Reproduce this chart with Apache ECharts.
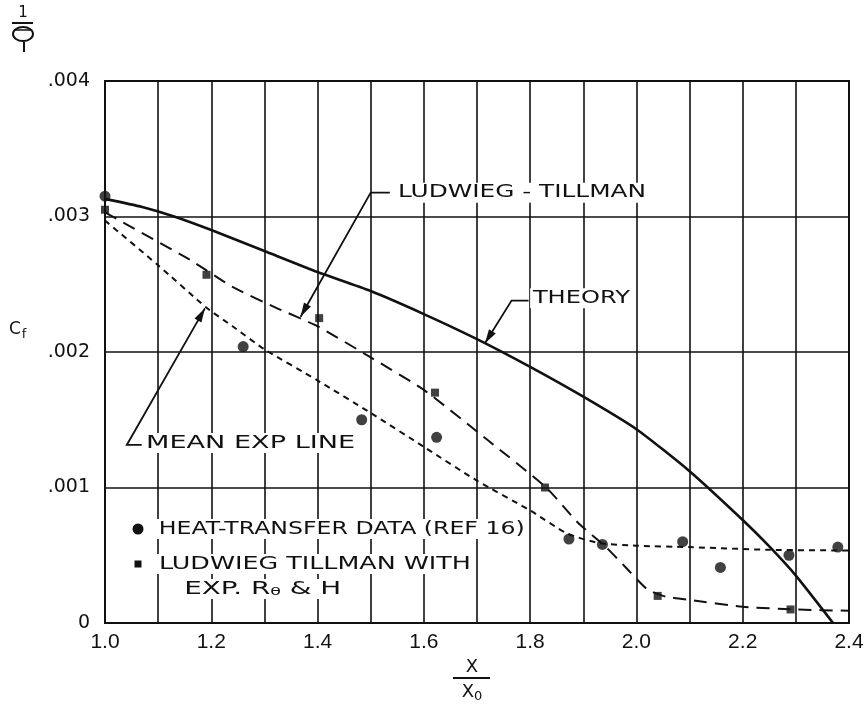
<!DOCTYPE html>
<html><head><meta charset="utf-8">
<script src="https://cdn.jsdelivr.net/npm/echarts@6/dist/echarts.min.js"></script>
<style>html,body{margin:0;padding:0;background:#fff}#c{width:867px;height:706px}</style>
</head><body><div id="c"></div>
<script>
// ---- tick labels ----
const xTickLabels = ['1.0','1.2','1.4','1.6','1.8','2.0','2.2','2.4'];
const yTickLabels = ['0','.001','.002','.003','.004'];

// ---- THEORY (solid curve) ----
const theoryX = [1.0,1.07,1.13,1.2,1.3,1.4,1.5,1.6,1.7,1.8,1.9,2.0,2.1,2.2,2.25,2.3,2.37];
const theoryY = [0.00313,0.00307,0.00300,0.00290,0.002745,0.00259,0.00245,0.00228,0.002095,0.00189,0.00167,0.00143,0.00112,0.00076,0.000565,0.00035,0.0];

// ---- LUDWIEG-TILLMAN (long dashes) ----
const ltX = [1.0,1.16,1.24,1.32,1.4,1.5,1.6,1.72,1.83,1.89,1.94,1.98,2.02,2.05,2.1,2.2,2.3,2.4];
const ltY = [0.00303,0.00268,0.00248,0.00233,0.00219,0.00196,0.00172,0.00135,0.00100,0.00074,0.00057,0.00041,0.00025,0.00020,0.00017,0.00012,0.00010,0.00009];

// ---- MEAN EXP LINE (short dashes) ----
const meanX = [1.0,1.1,1.19,1.24,1.3,1.4,1.5,1.6,1.7,1.8,1.87,1.93,2.0,2.1,2.25,2.4];
const meanY = [0.00297,0.00264,0.00233,0.00219,0.00202,0.00179,0.00155,0.00130,0.00105,0.00083,0.00066,0.00059,0.00057,0.00056,0.00054,0.000535];

// ---- HEAT-TRANSFER DATA (REF 16) : circles ----
const heatX = [1.0,1.26,1.483,1.624,1.873,1.936,2.087,2.158,2.287,2.379];
const heatY = [0.00315,0.00204,0.00150,0.00137,0.00062,0.00058,0.00060,0.00041,0.00050,0.00056];

// ---- LUDWIEG TILLMAN WITH EXP. Rθ & H : squares ----
const ltExpX = [1.0,1.191,1.403,1.621,1.828,2.04,2.29];
const ltExpY = [0.00305,0.00257,0.00225,0.00170,0.00100,0.00020,0.00010];

// ---- annotation anchors (data coordinates) ----
const annotations = [
  {text:'LUDWIEG - TILLMAN', at:[1.546,0.003176], width:248, path:[[1.536,0.003176],[1.500,0.003176],[1.368,0.00226]]},
  {text:'THEORY', at:[1.800,0.002396], width:97, path:[[1.797,0.002379],[1.765,0.002379],[1.715,0.002064]]},
  {text:'MEAN EXP LINE', at:[1.0715,0.001328], width:209, path:[[1.069,0.001314],[1.041,0.001314],[1.188,0.002322]]}
];

const zip = (a,b) => a.map((v,i)=>[v,b[i]]);
const INK = '#111';
const FONT = 'DejaVu Sans';

const chart = echarts.init(document.getElementById('c'), null, {renderer:'canvas'});
chart.setOption({
  animation:false,
  backgroundColor:'#fff',
  grid:{left:105,right:18,top:81,bottom:83,show:true,borderColor:INK,borderWidth:2,backgroundColor:'transparent'},
  xAxis:{type:'value',min:1.0,max:2.4,interval:0.1,
    axisLine:{show:true,onZero:false,lineStyle:{color:INK,width:2}},
    axisTick:{show:false},
    splitLine:{show:true,lineStyle:{color:INK,width:1.6}},
    axisLabel:{margin:9,fontSize:21,fontFamily:'Liberation Sans',color:INK,showMinLabel:true,showMaxLabel:true,
      formatter:v=>{const s=v.toFixed(1);return xTickLabels.indexOf(s)>=0?s:'';}}},
  yAxis:{type:'value',min:0,max:0.004,interval:0.001,
    axisLine:{show:true,onZero:false,lineStyle:{color:INK,width:2}},
    axisTick:{show:false},
    splitLine:{show:true,lineStyle:{color:INK,width:1.6}},
    axisLabel:{margin:15,fontSize:19,fontFamily:FONT,color:INK,
      formatter:v=>yTickLabels[Math.round(v/0.001)]||''}},
  series:[
    {type:'line',name:'THEORY',data:zip(theoryX,theoryY),symbol:'none',smooth:0.2,
      lineStyle:{color:INK,width:2.6,join:'round'},z:3},
    {type:'line',name:'LUDWIEG - TILLMAN',data:zip(ltX,ltY),symbol:'none',smooth:0.2,
      lineStyle:{color:INK,width:2,type:[13,8]},z:3},
    {type:'line',name:'MEAN EXP LINE',data:zip(meanX,meanY),symbol:'none',smooth:0.2,
      lineStyle:{color:INK,width:2,type:[6,5]},z:3},
    {type:'scatter',name:'HEAT-TRANSFER DATA (REF 16)',data:zip(heatX,heatY),symbol:'circle',symbolSize:11,
      itemStyle:{color:INK},z:4},
    {type:'scatter',name:'LUDWIEG TILLMAN WITH EXP. Rθ & H',data:zip(ltExpX,ltExpY),symbol:'rect',symbolSize:8,
      itemStyle:{color:INK},z:4}
  ]
});

// ---- text helpers ----
const mctx = document.createElement('canvas').getContext('2d');
function textW(str,size,family){mctx.font = size+'px "'+family+'"';return mctx.measureText(str).width;}
function stretched(str,left,cy,width,size,opts){
  opts = opts||{};
  const w = opts.measureWidth || textW(str,size,FONT);
  const st = {text:str,fontSize:size,fontFamily:FONT,fill:INK,
    align:'left',textAlign:'left',verticalAlign:'middle',textVerticalAlign:'middle'};
  if(opts.bg!==false){st.backgroundColor='#fff';st.padding=[1,2];}
  if(opts.rich) st.rich = opts.rich;
  return {type:'text',x:left,y:cy,scaleX:width/w,z:100,style:st};
}
function arrowHead(tip,from,len,half){
  const dx=tip[0]-from[0], dy=tip[1]-from[1], L=Math.hypot(dx,dy);
  const ux=dx/L, uy=dy/L, bx=tip[0]-ux*len, by=tip[1]-uy*len;
  return {type:'polygon',z:101,shape:{points:[tip,[bx-uy*half,by+ux*half],[bx+uy*half,by-ux*half]]},style:{fill:INK}};
}

const g = [];
annotations.forEach(a=>{
  const p = chart.convertToPixel({gridIndex:0}, a.at);
  g.push(stretched(a.text,p[0],p[1],a.width,17.5));
  const pts = a.path.map(q=>chart.convertToPixel({gridIndex:0}, q));
  g.push({type:'polyline',z:101,shape:{points:pts},style:{stroke:INK,lineWidth:1.8,fill:null}});
  g.push(arrowHead(pts[pts.length-1],pts[pts.length-2],14,4));
});

// legend
g.push({type:'circle',z:101,shape:{cx:138,cy:529,r:5.5},style:{fill:INK}});
g.push(stretched('HEAT-TRANSFER DATA (REF 16)',156,529,366,17.5));
g.push({type:'rect',z:101,shape:{x:134.5,y:560.5,width:7,height:7},style:{fill:INK}});
g.push(stretched('LUDWIEG TILLMAN WITH',156,564,312,17.5));
{
  const richW = textW('EXP. R',17.5,FONT)+textW('θ',11,FONT)+textW(' & H',17.5,FONT);
  g.push(stretched('{a|EXP. R}{s|θ}{a| & H}',181,589,157,17.5,{measureWidth:richW,
    rich:{a:{fontSize:17.5,fontFamily:FONT,fill:INK,color:INK},s:{fontSize:11,fontFamily:FONT,fill:INK,color:INK,padding:[7,0,0,0]}}}));
}

// y-axis title C_f
g.push({type:'text',x:9,y:330,z:100,style:{text:'{a|C}{s|f}',fill:INK,align:'left',textAlign:'left',verticalAlign:'middle',textVerticalAlign:'middle',
  rich:{a:{fontSize:17,fontFamily:FONT,fill:INK,color:INK},s:{fontSize:13,fontFamily:FONT,fill:INK,color:INK,padding:[9,0,0,1]}}}});

// x-axis title X / X0
g.push({type:'text',x:472,y:667,z:100,style:{text:'X',fontSize:18,fontFamily:FONT,fill:INK,align:'center',textAlign:'center',verticalAlign:'middle',textVerticalAlign:'middle'}});
g.push({type:'line',z:100,shape:{x1:453,y1:678,x2:490,y2:678},style:{stroke:INK,lineWidth:1.8}});
g.push({type:'text',x:472,y:692,z:100,style:{text:'{a|X}{s|0}',fill:INK,align:'center',textAlign:'center',verticalAlign:'middle',textVerticalAlign:'middle',
  rich:{a:{fontSize:18,fontFamily:FONT,fill:INK,color:INK},s:{fontSize:13,fontFamily:FONT,fill:INK,color:INK,padding:[9,0,0,0]}}}});

// top-left page mark
g.push({type:'text',x:23,y:13,z:100,style:{text:'1',fontSize:15,fontFamily:FONT,fill:INK,align:'center',textAlign:'center',verticalAlign:'middle',textVerticalAlign:'middle'}});
g.push({type:'line',z:100,shape:{x1:12,y1:23,x2:33,y2:23},style:{stroke:INK,lineWidth:2}});
g.push({type:'ellipse',z:100,shape:{cx:23,cy:34,rx:10,ry:7},style:{stroke:INK,lineWidth:2,fill:null}});
g.push({type:'line',z:100,shape:{x1:15,y1:30,x2:31,y2:30},style:{stroke:INK,lineWidth:1.5}});
g.push({type:'line',z:100,shape:{x1:24,y1:42,x2:24,y2:52},style:{stroke:INK,lineWidth:2}});

chart.setOption({graphic:{elements:g}});
</script></body></html>
